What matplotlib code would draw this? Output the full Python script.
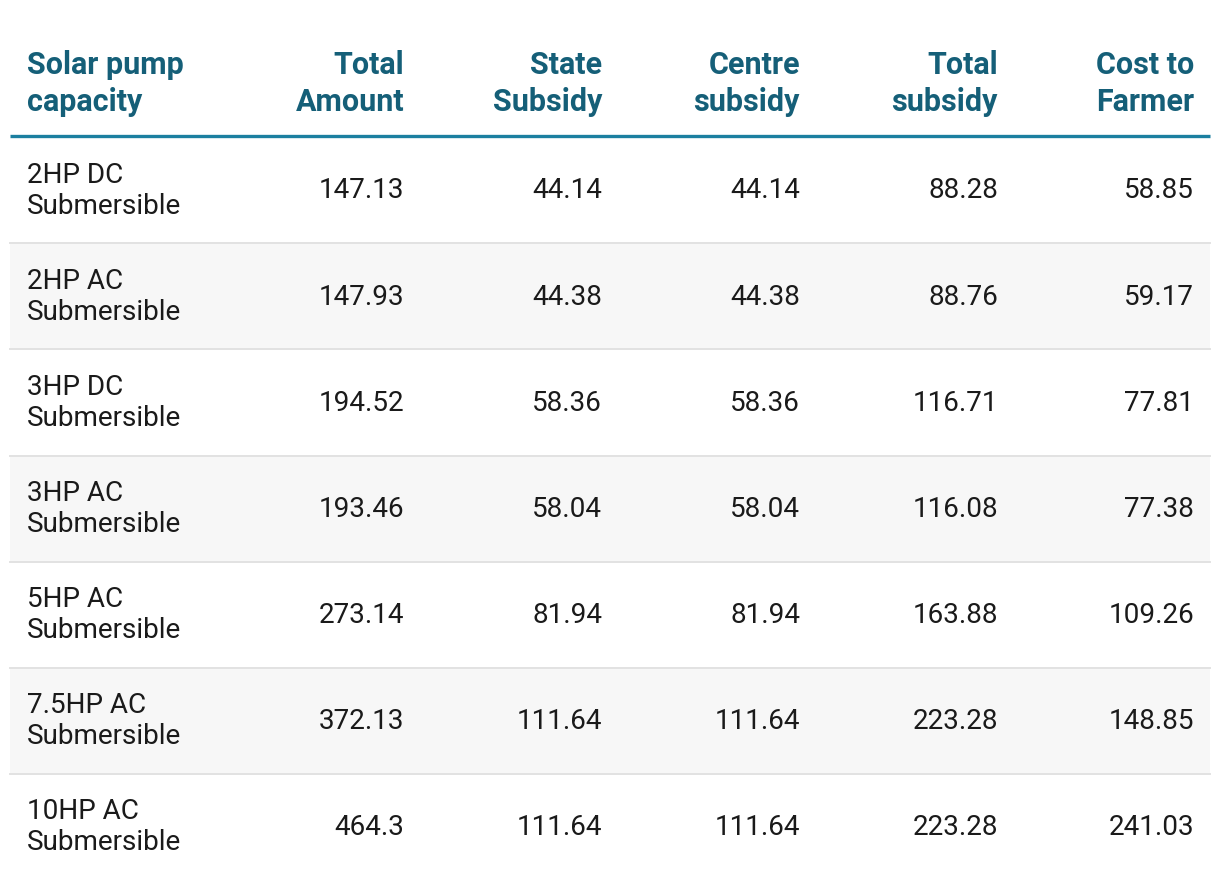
import matplotlib
matplotlib.use("Agg")
import matplotlib.pyplot as plt
from matplotlib.patches import Rectangle

columns = ["Solar pump\ncapacity", "Total\nAmount", "State\nSubsidy", "Centre\nsubsidy",
           "Total\nsubsidy", "Cost to\nFarmer"]
capacity = ["2HP DC\nSubmersible", "2HP AC\nSubmersible", "3HP DC\nSubmersible",
            "3HP AC\nSubmersible", "5HP AC\nSubmersible", "7.5HP AC\nSubmersible",
            "10HP AC\nSubmersible"]
total_amount = ["147.13", "147.93", "194.52", "193.46", "273.14", "372.13", "464.3"]
state_subsidy = ["44.14", "44.38", "58.36", "58.04", "81.94", "111.64", "111.64"]
centre_subsidy = ["44.14", "44.38", "58.36", "58.04", "81.94", "111.64", "111.64"]
total_subsidy = ["88.28", "88.76", "116.71", "116.08", "163.88", "223.28", "223.28"]
cost_to_farmer = ["58.85", "59.17", "77.81", "77.38", "109.26", "148.85", "241.03"]

W, H = 1220, 888
fig = plt.figure(figsize=(W / 100, H / 100), dpi=100)
ax = fig.add_axes([0, 0, 1, 1])
ax.set_xlim(0, W)
ax.set_ylim(H, 0)
ax.axis("off")

HEAD_COLOR = "#155f78"
LINE_COLOR = "#1b7fa0"
TEXT_COLOR = "#1a1a1a"
FONT = "Roboto"

left, right = 10, 1210
header_line_y = 136.5
row_top = 138
row_h = 106
col_x = [27, 404, 602, 800, 998, 1194]
col_ha = ["left", "right", "right", "right", "right", "right"]

# header
for x, ha, lab in zip(col_x, col_ha, columns):
    ax.text(x, 117, lab, ha=ha, va="bottom", fontsize=22.0, fontweight="bold",
            color=HEAD_COLOR, family=FONT, linespacing=1.3)
ax.plot([left, right], [header_line_y, header_line_y], color=LINE_COLOR, lw=2.4,
        solid_capstyle="butt")

value_cols = [total_amount, state_subsidy, centre_subsidy, total_subsidy, cost_to_farmer]
n = len(capacity)
for i in range(n):
    top = row_top + i * row_h
    if i % 2 == 1:
        ax.add_patch(Rectangle((left, top), right - left, row_h, facecolor="#f7f7f7",
                               edgecolor="none", zorder=0))
    if i < n - 1:
        ax.plot([left, right], [top + row_h - 0.5, top + row_h - 0.5], color="#e2e2e2",
                lw=1.4, zorder=1)
    cy = top + row_h / 2 - 1
    ax.text(col_x[0], cy + 1, capacity[i], ha="left", va="center", fontsize=20.1,
            color=TEXT_COLOR, family=FONT, linespacing=1.19)
    for j, vals in enumerate(value_cols):
        ax.text(col_x[j + 1], cy + 1, vals[i], ha="right", va="center", fontsize=20.1,
                color=TEXT_COLOR, family=FONT)

fig.savefig("out.png", dpi=100, facecolor="white")
